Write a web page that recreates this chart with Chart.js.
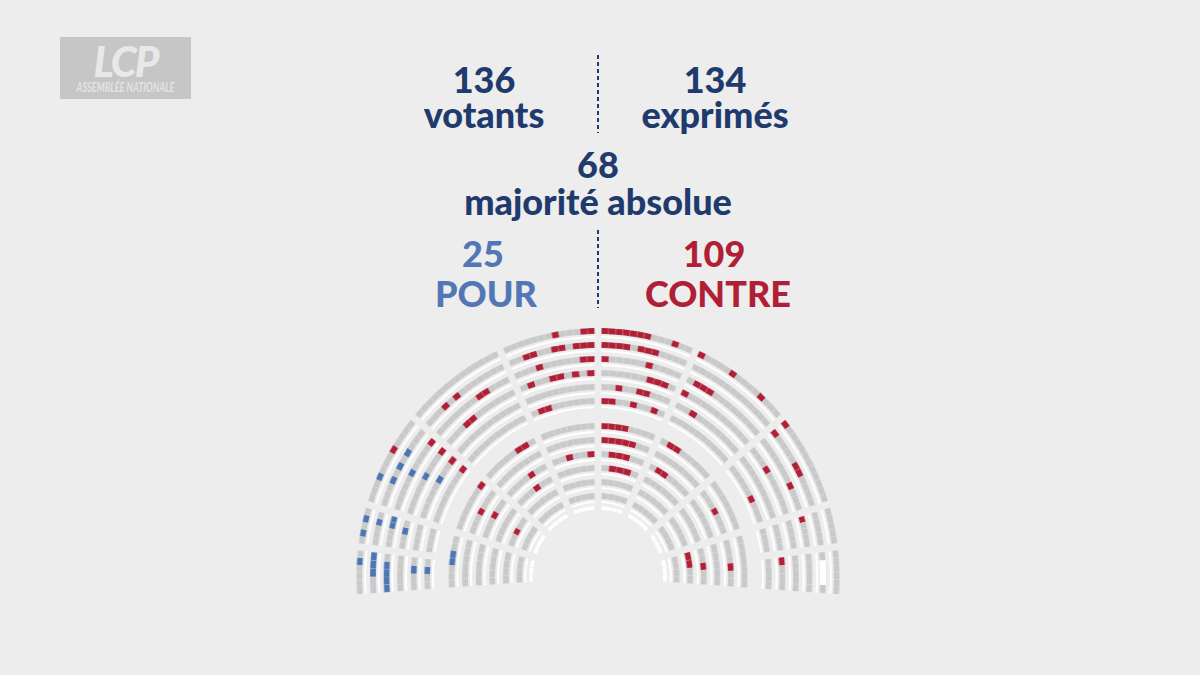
<!DOCTYPE html>
<html>
<head>
<meta charset="utf-8">
<script src="https://cdn.jsdelivr.net/npm/chart.js@4.4.1/dist/chart.umd.min.js"></script>
<style>
  html, body { margin: 0; padding: 0; }
  body { width: 1200px; height: 675px; background: #ededed; position: relative; overflow: hidden; font-family: Lato, 'Open Sans', sans-serif; }
  #hemi { position: absolute; left: 0; top: 0; width: 1200px; height: 675px; transform-origin: 598px 577px; transform: scaleX(0.97); }
  .t { position: absolute; width: 320px; text-align: center; font-size: 36px; font-weight: 900; line-height: 1; white-space: nowrap; color: #1f3a6c; }
  .pour { color: #5277b4; }
  .contre { color: #b01f36; }
  .dash { position: absolute; left: 597px; width: 2px; background: repeating-linear-gradient(to bottom, #1f3a6c 0 4px, rgba(0,0,0,0) 4px 7px); }
  #logo { position: absolute; left: 60px; top: 37px; width: 131px; height: 62px; background: #c6c6c6; overflow: hidden; }
  #logo .lcp { position: absolute; left: 0; top: 3px; width: 100%; text-align: center; font: italic 900 42px Lato, sans-serif; line-height: 1; letter-spacing: -2px; color: #e8e8e8; }
  #logo .an { position: absolute; left: -30px; top: 44px; width: 191px; text-align: center; font: italic 700 13px Lato, sans-serif; line-height: 1; color: #e3e3e3; transform: scaleX(0.7); }
</style>
</head>
<body>
<div id="logo"><div class="lcp">LCP</div><div class="an">ASSEMBLÉE NATIONALE</div></div>

<div class="t" style="left:324px; top:61px;">136</div>
<div class="t" style="left:324px; top:96px;">votants</div>
<div class="t" style="left:555px; top:61px;">134</div>
<div class="t" style="left:555px; top:96px;">exprimés</div>
<div class="t" style="left:438px; top:146px;">68</div>
<div class="t" style="left:438px; top:183px;">majorité absolue</div>
<div class="t pour" style="left:323px; top:235px;">25</div>
<div class="t pour" style="left:326px; top:275px;">POUR</div>
<div class="t contre" style="left:554px; top:235px;">109</div>
<div class="t contre" style="left:558px; top:275px;">CONTRE</div>
<div class="dash" style="top:55px; height:78px;"></div>
<div class="dash" style="top:230px; height:78px;"></div>

<div id="hemi"><canvas id="seatChart"></canvas></div>

<script>
// Seats read row by row, outermost row first, sectors from left to right.
// g = did not vote, r = contre, b = pour, w = empty seat
const outerBounds = [184, 173, 163, 140, 114, 90, 66, 40, 17, 7, -4];
const innerBounds = [184, 163, 140, 114, 90, 66, 40, 17, -4];

const outerRows = [
    ['ggggbg', 'gbgbg', 'gggbgggrgggg', 'gggggggggggggg', 'gggggggrgggrr', 'rrrrrrrgggrgg', 'rggggrggggrggg', 'rggggggggggg', 'ggggg', 'gggggg'],
    ['ggbbb', 'gggbg', 'gggbgbgbggg', 'gggrgrggggggg', 'ggrrggrrgrrr', 'rrrrgrrrgggg', 'ggggggggggggg', 'rggggrrgggg', 'ggggg', 'gwwwg'],
    ['bbbbg', 'gggbb', 'gggggbggggr', 'gggggggrrggg', 'gggrgggggrr', 'rgggggrgggg', 'grrrgggggggg', 'gggggggrggg', 'rgggg', 'ggggg'],
    ['ggggg', 'ggbg', 'gggggbgggr', 'gggrrgggggg', 'grggrrgrgr', 'ggggggrrrg', 'rgggggggggg', 'gggrgggggg', 'gggg', 'ggggg'],
    ['ggbg', 'gggg', 'gggggbggr', 'gggggggggg', 'gggggggggg', 'ggrggrrggg', 'ggrggggggg', 'ggggggggg', 'gggg', 'rggg'],
    ['ggbg', 'gggg', 'ggggggggr', 'gggggggggg', 'grrgggggg', 'rrggrggrg', 'gggggggggg', 'gggggrggg', 'gggg', 'gggg']
];

const innerRows = [
    ['gggbbgg', 'ggggggr', 'gggggrrg', 'gggggggg', 'rrrrgggg', 'grrggggg', 'ggggggg', 'ggggggg'],
    ['gggggg', 'gggrggg', 'gggggggg', 'ggggggg', 'rrrrrgg', 'gggggggg', 'gggrggg', 'gggrgg'],
    ['ggggg', 'gggrgg', 'ggggrgg', 'ggrggr', 'grrrgg', 'grrgggg', 'gggggg', 'ggggg'],
    ['ggggg', 'ggggg', 'gggrgg', 'ggggg', 'grrrg', 'gggggg', 'ggggg', 'ggrgg'],
    ['gggg', 'ggrgg', 'ggggg', 'ggggg', 'ggggg', 'ggggg', 'ggggg', 'rrgg'],
    ['gggg', 'gggg', 'ggggg', 'gggg', 'gggg', 'ggggg', 'gggg', 'gggg']
];

const benchRow = ['www', 'www', 'wwww', 'wwww', 'wwww', 'wwww', 'www', 'www'];

const seatColors = { g: '#c9c9c9', r: '#b01f36', b: '#4c76b2', w: '#ffffff' };
const clear = 'rgba(0,0,0,0)';
const START = 184, END = -4;
const AISLE = 7;          // aisle width in px
const OUTER = 249;        // outer radius in px
const toDeg = 180 / Math.PI;

// angles of each seat along one row, with the aisles left empty
function rowArcs(row, bounds, r) {
    const aisle = AISLE / r * toDeg;
    const data = [], colors = [];
    row.forEach((seats, k) => {
        let span = bounds[k] - bounds[k + 1];
        if (k > 0) span -= aisle / 2;
        if (k < row.length - 1) span -= aisle / 2;
        for (const c of seats) {
            data.push(span / seats.length);
            colors.push(seatColors[c]);
        }
        if (k < row.length - 1) {
            data.push(aisle);
            colors.push(clear);
        }
    });
    data.push(360 - (START - END));
    colors.push(clear);
    return { data, colors };
}

// thin white desk under a row, one piece per sector
function deskArcs(bounds, r) {
    const sectors = bounds.slice(1).map(() => 'w');
    return rowArcs(sectors, bounds, r);
}

const datasets = [];
let edge = OUTER;

function pushRing(weight, arcs, border) {
    datasets.push({
        data: arcs.data,
        backgroundColor: arcs.colors,
        weight: weight,
        borderWidth: border,
        borderColor: 'rgba(237,237,237,0.35)',
        clip: false
    });
    edge -= weight;
}

function spacer(weight) {
    pushRing(weight, { data: [360], colors: [clear] }, 0);
}

function addRow(row, bounds, gapAfter) {
    pushRing(6, rowArcs(row, bounds, edge - 3), 0.4);
    spacer(2);
    pushRing(2, deskArcs(bounds, edge - 1), 0);
    spacer(gapAfter);
}

outerRows.forEach((row, i) => addRow(row, outerBounds, i === outerRows.length - 1 ? 15 : 4));
innerRows.forEach((row, i) => addRow(row, innerBounds, i === innerRows.length - 1 ? 3 : 4));
pushRing(4, rowArcs(benchRow, innerBounds, edge - 2), 0.9);

const inner = edge;

new Chart(document.getElementById('seatChart').getContext('2d'), {
    type: 'doughnut',
    data: { datasets: datasets },
    options: {
        responsive: true,
        maintainAspectRatio: false,
        animation: false,
        events: [],
        rotation: -(START - 90),
        circumference: 360,
        radius: OUTER,
        cutout: (inner / OUTER * 100) + '%',
        layout: { padding: { left: 0, right: 4, top: 479, bottom: 0 } },
        plugins: {
            legend: { display: false },
            tooltip: { enabled: false }
        }
    }
});
</script>
</body>
</html>
